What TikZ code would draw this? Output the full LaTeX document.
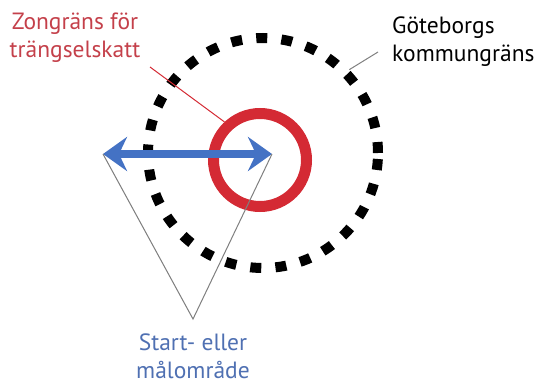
\documentclass[tikz,border=0pt]{standalone}
\usepackage{fontspec}
\setmainfont{PT Sans}
\usetikzlibrary{arrows.meta}
\definecolor{zonered}{HTML}{D42A34}
\definecolor{zonetext}{HTML}{C4404A}
\definecolor{arrowblue}{HTML}{4472C4}
\definecolor{labelblue}{HTML}{4F70B2}
\definecolor{leadgray}{HTML}{7F7F7F}
\tikzset{
  lbl/.style={font=\fontsize{23.5}{28}\selectfont, inner sep=0pt, align=center},
  lead/.style={draw=leadgray, line width=1pt},
}
\begin{document}
\begin{tikzpicture}[x=1pt,y=-1pt]
\useasboundingbox (0,0) rectangle (540,380);
% municipal border
\node[circle, draw=black, line width=10pt, dash pattern=on 11pt off 14.2pt,
      minimum size=230pt, inner sep=0pt] (kommun) at (263,153) {};
% congestion tax zone
\node[circle, draw=zonered, line width=11pt, minimum size=93pt, inner sep=0pt] (zone) at (260,160) {};
% arrow ends
\coordinate (A) at (103,154);
\coordinate (B) at (272,154);
\coordinate (apex) at (193,319);
\draw[arrowblue, line width=8pt,
      {Stealth[length=24pt,width=34pt,inset=8pt]}-{Stealth[length=24pt,width=34pt,inset=8pt]}] (A) -- (B);
% labels
\node[lbl, text=zonetext] (zlabel) at (75,38) {Zongräns för\\trängselskatt};
\node[lbl, text=black, align=left, anchor=west] (klabel) at (392,42) {Göteborgs\\kommungräns};
\node[lbl, text=labelblue] (slabel) at (193,356) {Start- eller\\målområde};
% leader lines
\draw[draw=zonered, line width=1pt] (150,67) -- (zone.133);
\draw[lead] (378,52) -- (kommun.44);
\draw[lead] (A) -- (apex) -- (B);
\end{tikzpicture}
\end{document}
